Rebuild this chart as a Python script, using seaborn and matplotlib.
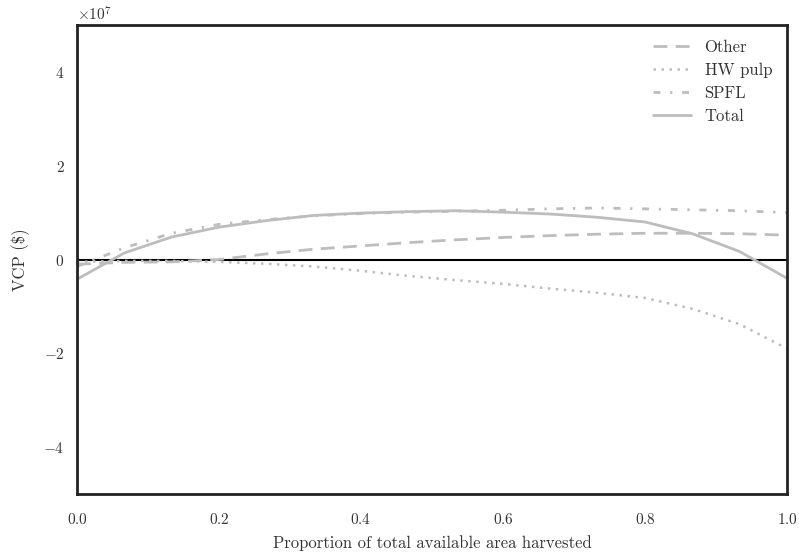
import numpy as np
import pandas as pd
import matplotlib
matplotlib.use("Agg")
import matplotlib.pyplot as plt
import seaborn as sns

# Data (values in units of 1e7 $)
proportion = [i / 15 for i in range(16)]
other = [-0.10, -0.06, -0.05, 0.00, 0.12, 0.22, 0.29, 0.36, 0.42, 0.47, 0.51, 0.54, 0.56, 0.56, 0.55, 0.52]
hw_pulp = [-0.05, -0.03, -0.03, -0.05, -0.09, -0.15, -0.24, -0.35, -0.44, -0.52, -0.62, -0.71, -0.82, -1.05, -1.38, -1.90]
spfl = [-0.15, 0.25, 0.56, 0.75, 0.85, 0.93, 0.98, 1.01, 1.03, 1.05, 1.08, 1.10, 1.08, 1.06, 1.04, 1.00]
total = [-0.42, 0.14, 0.48, 0.69, 0.83, 0.94, 0.99, 1.02, 1.04, 1.01, 0.97, 0.90, 0.80, 0.55, 0.17, -0.40]

series_names = ["Other", "HW pulp", "SPFL", "Total"]
series_values = [other, hw_pulp, spfl, total]
xticks = [0.0, 0.2, 0.4, 0.6, 0.8, 1.0]
yticks = [-4e7, -2e7, 0, 2e7, 4e7]

sns.set_style("white")
plt.rcParams["font.family"] = ["cmr10"]
plt.rcParams["mathtext.fontset"] = "cm"
plt.rcParams["axes.formatter.use_mathtext"] = True
plt.rcParams["axes.unicode_minus"] = True

fig = plt.figure(figsize=(7.99, 5.56), dpi=100)
ax = fig.add_axes([0.0964, 0.1115, 0.8886, 0.8435])

gray = "#bdbdbd"
styles = {
    "Other": (0, (5, 3)),
    "HW pulp": (0, (1, 2.2)),
    "SPFL": (0, (2.5, 3.5, 0.8, 3.5)),
    "Total": "-",
}
widths = {"Other": 2, "HW pulp": 1.8, "SPFL": 2, "Total": 2}

ax.axhline(0, color="black", lw=1.5, zorder=1)

for name, vals in zip(series_names, series_values):
    df = pd.DataFrame({"x": proportion, "y": np.array(vals) * 1e7})
    sns.lineplot(data=df, x="x", y="y", ax=ax, color=gray, lw=widths[name],
                 linestyle=styles[name], label=name, zorder=2)

ax.set_xlim(0, 1)
ax.set_ylim(-5e7, 5e7)
ax.set_xticks(xticks)
ax.set_yticks(yticks)
ax.tick_params(labelsize=11, length=0, labelcolor="#333333")
ax.tick_params(axis="x", pad=13)
ax.tick_params(axis="y", pad=9)
ax.set_xlabel("Proportion of total available area harvested", fontsize=12,
              labelpad=6, color="#333333")
ax.set_ylabel("VCP (\\$)", fontsize=12, labelpad=10, color="#333333")
ax.yaxis.get_offset_text().set_fontsize(11)
ax.yaxis.get_offset_text().set_color("#333333")

for s in ax.spines.values():
    s.set_color("#222222")
    s.set_linewidth(2.0)

leg = ax.legend(loc="upper right", frameon=False, fontsize=12, handlelength=2.3,
                borderaxespad=0.5, labelspacing=0.45)
for t in leg.get_texts():
    t.set_color("#333333")

fig.savefig("out.png", dpi=100)
